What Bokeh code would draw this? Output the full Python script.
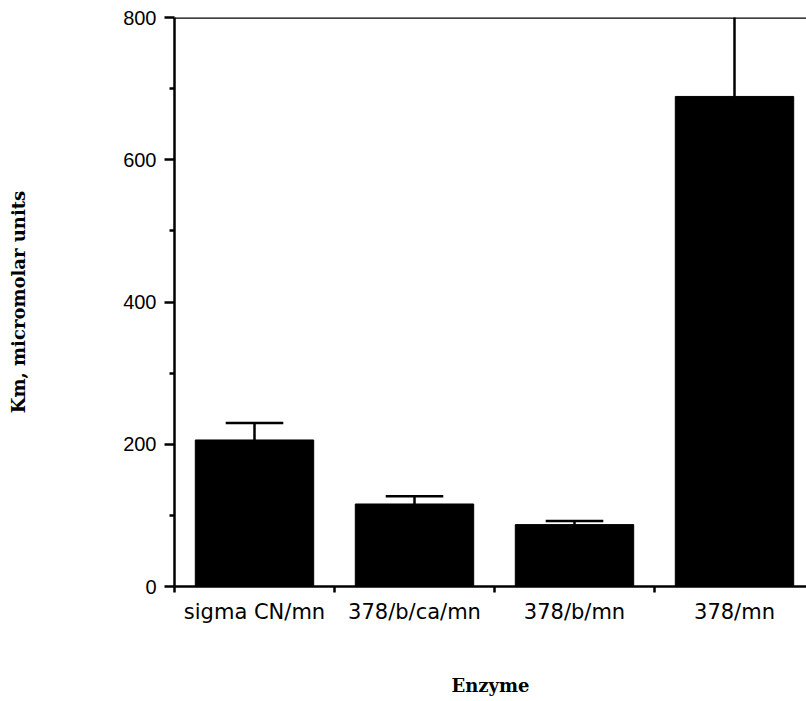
from bokeh.plotting import figure
from bokeh.models import Range1d, FixedTicker, Span, ColumnDataSource
from bokeh.embed import file_html
from bokeh.resources import INLINE

# Data
enzymes = ["sigma CN/mn", "378/b/ca/mn", "378/b/mn", "378/mn"]
km_values = [206, 116, 87, 689]
km_errors = [24, 11, 5, 170]

y_ticks = [0, 200, 400, 600, 800]
y_minor_ticks = [100, 300, 500, 700]

xpos = [i + 0.5 for i in range(len(enzymes))]
upper = [v + e for v, e in zip(km_values, km_errors)]

src = ColumnDataSource(dict(x=xpos, top=km_values, upper=upper,
                            cap_l=[x - 0.18 for x in xpos],
                            cap_r=[x + 0.18 for x in xpos]))

p = figure(width=806, height=701,
           x_range=Range1d(0, 3.95), y_range=Range1d(0, 800),
           output_backend="svg", toolbar_location=None,
           min_border_left=174, min_border_right=0,
           min_border_top=17, min_border_bottom=115)

p.vbar(x="x", top="top", bottom=0, width=0.74, source=src,
       fill_color="black", line_color="black")
p.segment(x0="x", y0="top", x1="x", y1="upper", source=src,
          line_color="black", line_width=2.5)
p.segment(x0="cap_l", y0="upper", x1="cap_r", y1="upper", source=src,
          line_color="black", line_width=2.5)

# top frame line
p.add_layout(Span(location=800, dimension="width", line_color="black", line_width=2.5))

p.xgrid.visible = False
p.ygrid.visible = False
p.outline_line_color = None

# x axis: labels at centres, ticks at category boundaries (minor ticks)
xa = p.xaxis[0]
xa.ticker = FixedTicker(ticks=xpos, minor_ticks=[0, 1, 2, 3])
xa.major_label_overrides = {x: name for x, name in zip(xpos, enzymes)}
xa.major_tick_out = 0
xa.major_tick_in = 0
xa.minor_tick_out = 6
xa.minor_tick_in = 0
xa.minor_tick_line_width = 2.5
xa.minor_tick_line_color = "black"
xa.axis_line_width = 2.5
xa.axis_line_color = "black"
xa.major_label_text_font = "DejaVu Sans"
xa.major_label_text_font_size = "21px"
xa.major_label_text_color = "black"
xa.major_label_standoff = 7
xa.axis_label = "Enzyme"
xa.axis_label_text_font = "DejaVu Serif"
xa.axis_label_text_font_style = "bold"
xa.axis_label_text_font_size = "18px"
xa.axis_label_text_color = "black"
xa.axis_label_standoff = 48

ya = p.yaxis[0]
ya.ticker = FixedTicker(ticks=y_ticks, minor_ticks=y_minor_ticks)
ya.major_tick_out = 10
ya.major_tick_in = 0
ya.minor_tick_out = 5
ya.minor_tick_in = 0
ya.major_tick_line_width = 2.5
ya.minor_tick_line_width = 2.5
ya.major_tick_line_color = "black"
ya.minor_tick_line_color = "black"
ya.axis_line_width = 2.5
ya.axis_line_color = "black"
ya.major_label_text_font = "Liberation Sans"
ya.major_label_text_font_size = "20px"
ya.major_label_text_color = "black"
ya.major_label_standoff = 8
ya.axis_label = "Km, micromolar units"
ya.axis_label_text_font = "DejaVu Serif"
ya.axis_label_text_font_style = "bold"
ya.axis_label_text_font_size = "18px"
ya.axis_label_text_color = "black"
ya.axis_label_standoff = 91

open("out.html", "w").write(file_html(p, INLINE))
